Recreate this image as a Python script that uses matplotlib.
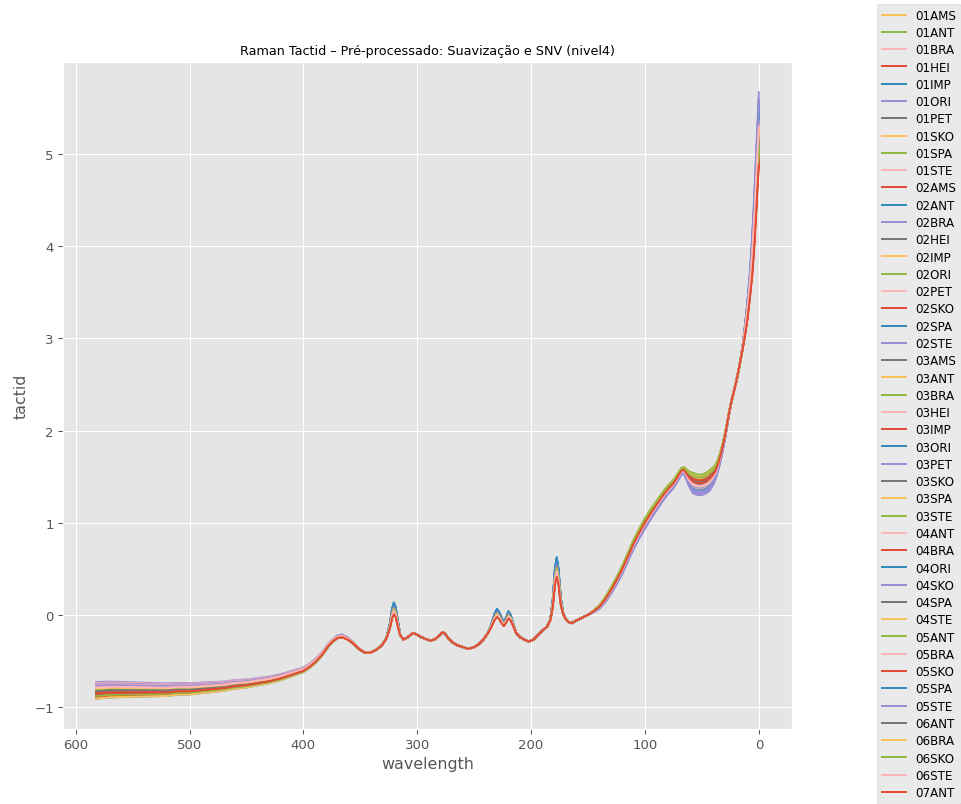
import numpy as np
import matplotlib
matplotlib.use("Agg")
import matplotlib.pyplot as plt

plt.style.use("ggplot")

# Sample names (one spectrum each)
samples = [
    "01AMS", "01ANT", "01BRA", "01HEI", "01IMP", "01ORI", "01PET", "01SKO", "01SPA", "01STE",
    "02AMS", "02ANT", "02BRA", "02HEI", "02IMP", "02ORI", "02PET", "02SKO", "02SPA", "02STE",
    "03AMS", "03ANT", "03BRA", "03HEI", "03IMP", "03ORI", "03PET", "03SKO", "03SPA", "03STE",
    "04ANT", "04BRA", "04ORI", "04SKO", "04SPA", "04STE",
    "05ANT", "05BRA", "05SKO", "05SPA", "05STE",
    "06ANT", "06BRA", "06SKO", "06STE",
    "07ANT",
]

# Wavelength grid and the mean pre-processed spectrum
wavelength = [
    0, 1, 2, 3, 4, 5, 6, 8, 10, 12, 14, 16, 18, 20, 22, 24, 26, 28, 30, 32, 34, 36, 38, 40,
    43, 46, 50, 54, 58, 61, 64, 66, 68, 70, 73, 76, 80, 85, 90, 95, 100, 105, 110, 115, 120,
    125, 130, 135, 140, 145, 150, 155, 160, 164, 167, 170, 172, 174, 176, 177.5, 179, 181, 183,
    186, 190, 194, 198, 202, 206, 210, 213, 216, 218, 220, 222, 224, 226, 228, 230, 232, 235,
    238, 242, 246, 250, 255, 260, 265, 269, 273, 276, 278, 281, 285, 289, 293, 297, 301, 304,
    308, 312, 315, 317, 319, 320.5, 322, 324, 327, 331, 336, 341, 346, 351, 356, 361, 366, 370,
    374, 378, 382, 386, 390, 395, 400, 405, 410, 415, 420, 430, 440, 450, 460, 470, 480, 490,
    500, 510, 520, 530, 540, 550, 560, 570, 582,
]
mean_intensity = [
    5.25, 5.0, 4.75, 4.5, 4.25, 4.05, 3.85, 3.55, 3.3, 3.1, 2.92, 2.77, 2.64, 2.52, 2.42, 2.32,
    2.2, 2.06, 1.93, 1.82, 1.72, 1.64, 1.58, 1.54, 1.5, 1.47, 1.45, 1.45, 1.47, 1.5, 1.55, 1.58,
    1.57, 1.53, 1.47, 1.42, 1.37, 1.29, 1.2, 1.11, 1.01, 0.9, 0.78, 0.64, 0.5, 0.38, 0.27, 0.17,
    0.09, 0.04, 0.0, -0.03, -0.06, -0.09, -0.08, -0.04, 0.02, 0.15, 0.42, 0.52, 0.42, 0.12,
    -0.05, -0.13, -0.17, -0.22, -0.27, -0.29, -0.27, -0.24, -0.2, -0.1, -0.03, 0.0, -0.06,
    -0.1, -0.06, -0.01, 0.02, -0.02, -0.12, -0.2, -0.27, -0.32, -0.35, -0.37, -0.35, -0.33,
    -0.3, -0.25, -0.2, -0.19, -0.23, -0.27, -0.28, -0.26, -0.24, -0.21, -0.2, -0.24, -0.27,
    -0.22, -0.1, 0.03, 0.07, 0.02, -0.12, -0.25, -0.33, -0.38, -0.41, -0.41, -0.37, -0.31,
    -0.26, -0.23, -0.24, -0.28, -0.33, -0.4, -0.46, -0.51, -0.56, -0.6, -0.62, -0.64, -0.66,
    -0.68, -0.71, -0.73, -0.75, -0.76, -0.78, -0.79, -0.8, -0.81, -0.81, -0.82, -0.82, -0.82,
    -0.82, -0.82, -0.82, -0.83,
]
# Height of the sharp bands above their local baseline (same grid)
band_height = [0.0] * len(wavelength)
for w_band, h in [(172, 0.05), (174, 0.2), (176, 0.48), (177.5, 0.6), (179, 0.5), (181, 0.2),
                  (183, 0.04), (216, 0.08), (218, 0.17), (220, 0.22), (222, 0.16), (224, 0.13),
                  (226, 0.17), (228, 0.22), (230, 0.25), (232, 0.2), (235, 0.08), (317, 0.15),
                  (319, 0.3), (320.5, 0.36), (322, 0.3), (324, 0.15), (327, 0.03), (361, 0.03),
                  (366, 0.05), (370, 0.04)]:
    band_height[wavelength.index(w_band)] = h

# Per-sample deviations from the mean spectrum
tip_value = [5.30, 5.12, 5.35, 5.05, 5.48, 5.67, 5.25, 5.22, 5.10, 5.30, 4.98, 5.55, 5.40,
             5.18, 5.28, 5.08, 5.32, 5.00, 5.45, 5.52, 5.20, 5.26, 5.15, 5.28, 5.02, 5.50,
             5.60, 5.22, 5.18, 5.05, 5.33, 4.95, 5.42, 5.58, 5.16, 5.24, 5.10, 5.36, 4.92,
             5.46, 5.50, 5.20, 5.27, 5.06, 5.30, 4.88]
baseline_shift = [0.05, -0.04, 0.08, -0.02, -0.06, 0.10, 0.02, -0.05, 0.03, 0.07, -0.03,
                  -0.08, 0.06, 0.00, 0.04, -0.06, 0.09, -0.01, 0.01, 0.05, -0.03, 0.02,
                  -0.07, 0.06, -0.04, 0.03, 0.08, -0.02, -0.05, 0.04, 0.07, -0.06, -0.03,
                  0.05, 0.01, -0.08, 0.02, 0.05, -0.02, -0.04, 0.06, 0.00, 0.03, -0.05,
                  0.04, -0.03]
band_scale = [1.0, 0.95, 0.92, 0.9, 1.18, 1.05, 1.0, 1.02, 0.97, 0.94, 0.88, 1.15, 1.08,
              1.0, 1.03, 0.96, 0.93, 0.9, 1.12, 1.06, 1.0, 0.99, 0.95, 0.92, 0.87, 1.16,
              1.1, 1.01, 1.0, 0.97, 0.94, 0.9, 1.13, 1.07, 0.99, 1.02, 0.96, 0.93, 0.89,
              1.14, 1.04, 1.0, 0.98, 0.95, 0.92, 0.82]
shoulder_shift = [0.03, 0.06, -0.08, 0.04, -0.1, -0.14, -0.02, 0.05, 0.07, -0.1, 0.02,
                  -0.08, -0.12, -0.01, 0.04, 0.06, -0.06, 0.03, -0.09, -0.13, 0.0, 0.05,
                  0.07, -0.07, 0.02, -0.11, -0.15, -0.03, 0.03, 0.05, -0.05, 0.01, -0.07,
                  -0.12, -0.02, 0.04, 0.06, -0.09, 0.0, -0.1, -0.11, -0.01, 0.05, 0.04,
                  -0.06, -0.02]

palette = ["#FBC15E", "#8EBA42", "#FFB5B8", "#E24A33", "#348ABD", "#988ED5", "#777777"]

w = np.array(wavelength, dtype=float)
mean = np.array(mean_intensity)
bands = np.array(band_height)
# Regions where each kind of deviation applies
w_low = np.interp(w, [340, 380, 582], [0.0, 0.2, 1.0])
w_shoulder = np.interp(w, [25, 35, 42, 58, 66, 75, 100, 130, 150],
                       [0.0, 0.5, 1.0, 1.0, 0.3, 0.4, 0.5, 0.3, 0.0])
w_tip = np.interp(w, [0, 3, 8, 15], [1.0, 0.8, 0.35, 0.0])

fig = plt.figure(figsize=(961 / 95, 805 / 95), dpi=95)
ax = fig.add_axes([0.0656, 0.0932, 0.7585, 0.8285])

for i, name in enumerate(samples):
    y = (mean
         + baseline_shift[i] * w_low
         + (band_scale[i] - 1.0) * bands
         + shoulder_shift[i] * w_shoulder
         + (tip_value[i] - mean_intensity[0]) * w_tip)
    ax.plot(w, y, color=palette[i % 7], lw=1.5, label=name)

ax.invert_xaxis()
ax.set_title("Raman Tactid – Pré-processado: Suavização e SNV (nivel4)", fontsize=9.7)
ax.set_xlabel("wavelength")
ax.set_ylabel("tactid")

fig.legend(loc="upper left", bbox_to_anchor=(877 / 961, 1 - 5 / 805),
           bbox_transform=fig.transFigure, borderaxespad=0, fontsize=9,
           labelspacing=0.36)

fig.savefig("out.png", dpi=95)
